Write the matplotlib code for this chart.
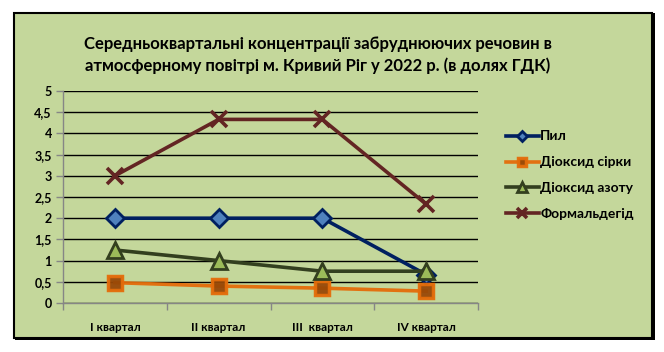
import matplotlib
matplotlib.use("Agg")
import matplotlib.pyplot as plt
from matplotlib.patches import Rectangle
from matplotlib.ticker import FuncFormatter, MultipleLocator, FixedLocator

plt.rcParams['font.family'] = ['Lato', 'DejaVu Sans']

categories = ["I квартал", "II квартал", "III  квартал", "IV квартал"]
pyl = [2.0, 2.0, 2.0, 0.67]
sulfur = [0.48, 0.40, 0.35, 0.28]
nitrogen = [1.25, 1.0, 0.75, 0.75]
formaldehyde = [3.0, 4.33, 4.33, 2.33]
series_names = ["Пил", "Діоксид сірки", "Діоксид азоту", "Формальдегід"]
title = "Середньоквартальні концентрації забруднюючих речовин в\nатмосферному повітрі м. Кривий Ріг у 2022 р. (в долях ГДК)"

W, H = 664, 352
fig = plt.figure(figsize=(W / 100, H / 100), dpi=100, facecolor="white")

bg = "#C4D79B"
# shadow / frame
fig.patches.append(Rectangle((15 / W, 1 - 340 / H), 640 / W, 327 / H, transform=fig.transFigure,
                             facecolor="black", edgecolor="none", zorder=-3))
fig.patches.append(Rectangle((14 / W, 1 - 338 / H), 638 / W, 325 / H, transform=fig.transFigure,
                             facecolor=bg, edgecolor="black", linewidth=1.5, zorder=-2))

ax = fig.add_axes([63 / W, 1 - 303 / H, (478 - 63) / W, (303 - 91) / H])
ax.set_facecolor("none")
x = list(range(len(categories)))

l1, = ax.plot(x, pyl, color="#002060", lw=2.6, marker="D", ms=9, mfc="#4F81BD",
              mec="#002060", mew=2.0, zorder=3)
l2, = ax.plot(x, sulfur, color="#E46C0A", lw=2.6, marker="s", ms=10, mfc="#984807",
              mec="#E46C0A", mew=2.5, zorder=3, alpha=0.95)
l3, = ax.plot(x, nitrogen, color="#333F1F", lw=2.6, marker="^", ms=11, mfc="#9BBB59",
              mec="#333F1F", mew=2.0, zorder=3)
l4, = ax.plot(x, formaldehyde, color="#632523", lw=2.6, marker="x", ms=11, mew=2.6,
              zorder=3)

ax.set_xlim(-0.5, 3.5)
ax.set_ylim(0, 5)
ax.yaxis.set_major_locator(MultipleLocator(0.5))
ax.yaxis.set_major_formatter(FuncFormatter(lambda v, p: ("%g" % v).replace(".", ",")))
ax.grid(axis="y", color="black", lw=1.0)
ax.set_axisbelow(True)
ax.set_xticks(x)
ax.set_xticklabels(categories)
ax.xaxis.set_minor_locator(FixedLocator([-0.5, 0.5, 1.5, 2.5, 3.5]))
ax.tick_params(axis="x", which="major", length=0, pad=14)
ax.tick_params(axis="x", which="minor", length=5, color="#868686", width=1)
ax.tick_params(axis="y", length=5, color="#868686", width=1, pad=3)
for lab in ax.get_xticklabels():
    lab.set_fontweight("bold")
    lab.set_fontsize(8.5)
for lab in ax.get_yticklabels():
    lab.set_fontweight("bold")
    lab.set_fontsize(9)
for s in ["top", "right"]:
    ax.spines[s].set_visible(False)
for s in ["left", "bottom"]:
    ax.spines[s].set_color("#868686")
    ax.spines[s].set_linewidth(1)

fig.text(318 / W, 1 - 55 / H, title, ha="center", va="center", fontsize=12,
         fontweight="bold", linespacing=1.45)

leg = fig.legend([l1, l2, l3, l4], series_names, loc="upper left",
                 bbox_to_anchor=(493 / W, 1 - 118 / H), frameon=False,
                 prop={"weight": "bold", "size": 10}, handlelength=2.4,
                 handletextpad=0.1, labelspacing=1.0, markerscale=0.6)

fig.savefig("out.png", dpi=100, facecolor="white")
